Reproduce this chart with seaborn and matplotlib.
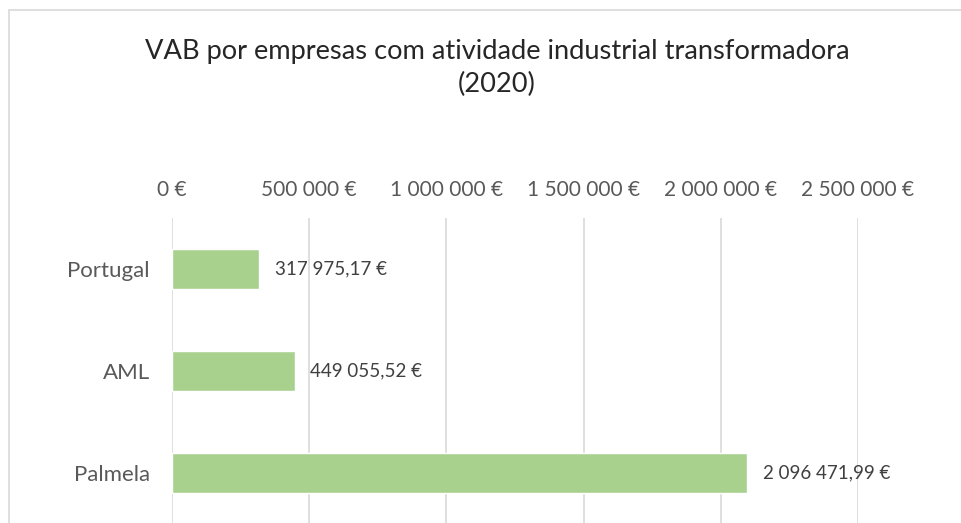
import matplotlib
matplotlib.use("Agg")
import matplotlib.pyplot as plt
import seaborn as sns
import pandas as pd
from matplotlib.patches import Rectangle

categories = ["Portugal", "AML", "Palmela"]
values = [317975.17, 449055.52, 2096471.99]
xticks = [0, 500000, 1000000, 1500000, 2000000, 2500000]
title = "VAB por empresas com atividade industrial transformadora\n(2020)"

def fmt_int(v):
    return f"{int(round(v)):,}".replace(",", " ") + " €"

def fmt_dec(v):
    s = f"{v:,.2f}"
    ip, dp = s.split(".")
    return ip.replace(",", " ") + "," + dp + " €"

sns.set_theme(style="white")
plt.rcParams['font.family'] = ['Lato', 'DejaVu Sans']

df = pd.DataFrame({"cat": categories, "val": values})

W, H = 961, 523
fig = plt.figure(figsize=(W / 100, H / 100), dpi=100)
fig.patch.set_facecolor("white")

# outer chart frame
fig.patches.append(Rectangle((9 / W, -0.05), 1.2, 1 - 10 / H + 0.05,
                             transform=fig.transFigure, fill=False,
                             edgecolor="#D9D9D9", linewidth=1.2, zorder=0))

ax_l, ax_r, ax_t, ax_b = 172, 858, 218, 524
ax = fig.add_axes([ax_l / W, 1 - ax_b / H, (ax_r - ax_l) / W, (ax_b - ax_t) / H])

sns.barplot(data=df, x="val", y="cat", orient="h", color="#A9D18E",
            width=0.4, ax=ax, zorder=3, saturation=1)

ax.set_xlim(0, 2500000)
ax.set_ylim(2.5, -0.5)
ax.set_xticks(xticks)
ax.set_xticklabels([fmt_int(v) for v in xticks])
ax.xaxis.tick_top()
ax.tick_params(axis="x", length=0, pad=13, labelsize=15, labelcolor="#595959")
ax.tick_params(axis="y", length=0, pad=16, labelsize=16, labelcolor="#595959")
ax.set_xlabel("")
ax.set_ylabel("")
for s in ax.spines.values():
    s.set_visible(False)
ax.grid(axis="x", color="#D9D9D9", linewidth=1.2, zorder=0)
ax.set_axisbelow(True)
ax.patch.set_alpha(0)

for c in ax.containers:
    ax.bar_label(c, labels=[fmt_dec(v) for v in values], padding=11,
                 fontsize=13.5, color="#404040")

fig.text(497 / W, 1 - 68 / H, title, ha="center", va="center",
         fontsize=19.6, color="#262626", linespacing=1.35)

fig.savefig("out.png", dpi=100)
